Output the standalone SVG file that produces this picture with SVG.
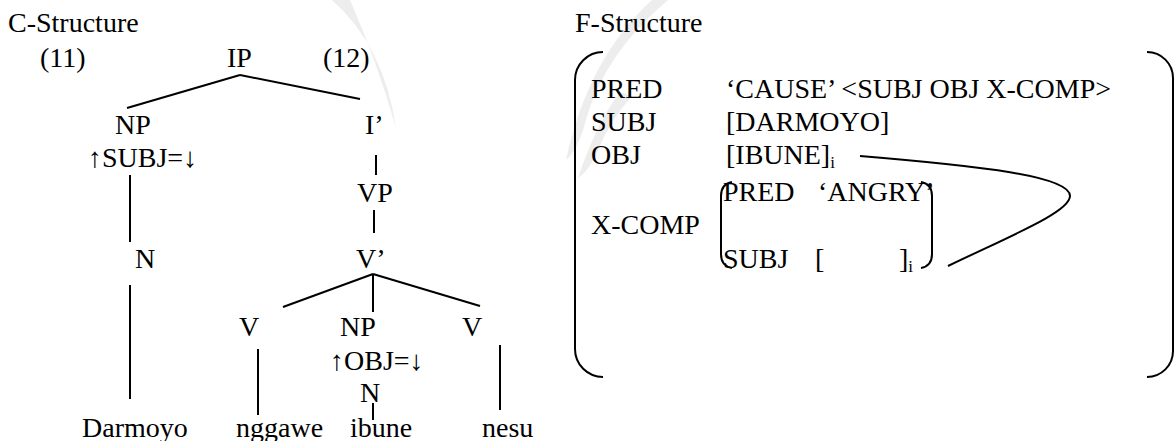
<svg xmlns="http://www.w3.org/2000/svg" width="1176" height="441" viewBox="0 0 1176 441">
<style>
text{font-family:"Liberation Serif","DejaVu Serif","Times New Roman",serif;font-size:28px;fill:#000}
.sub{font-size:17px}
.c line,.c path{stroke:#000;stroke-width:2;fill:none}
.wm{fill:#ededed;stroke:none}
</style>
<rect width="1176" height="441" fill="#fff"/>
<g id="watermark">
<path class="wm" d="M332 0 Q384 46 396 128 Q378 64 350 0 Z"/>
<path class="wm" d="M652 0 Q588 58 566 160 Q578 150 586 120 Q604 54 668 0 Z"/>
<path class="wm" d="M620 92 Q596 124 578 178 Q590 170 598 150 Q610 120 632 96 Z"/>
</g>
<g id="titles">
<text x="8" y="32">C-Structure</text>
<text x="40" y="67">(11)</text>
<text x="575" y="32">F-Structure</text>
<text x="323" y="67">(12)</text>
</g>
<g id="c-structure">
<g id="IP"><text x="227" y="67">IP</text></g>
<g id="NP-subj"><text x="115" y="134">NP</text><text x="88" y="167">↑SUBJ=↓</text></g>
<g id="Ibar"><text x="365" y="134">I’</text></g>
<g id="VP"><text x="357" y="202">VP</text></g>
<g id="N-subj"><text x="135" y="268">N</text></g>
<g id="Vbar"><text x="356" y="268">V’</text></g>
<g id="V1"><text x="239" y="336">V</text></g>
<g id="NP-obj"><text x="340" y="336">NP</text><text x="330" y="370">↑OBJ=↓</text></g>
<g id="N-obj"><text x="360" y="402">N</text></g>
<g id="V2"><text x="462" y="336">V</text></g>
<g id="w-darmoyo"><text x="82" y="437">Darmoyo</text></g>
<g id="w-nggawe"><text x="236" y="437">nggawe</text></g>
<g id="w-ibune"><text x="350" y="437">ibune</text></g>
<g id="w-nesu"><text x="482" y="437">nesu</text></g>
</g>
<g id="connectors" class="c">
<line x1="240" y1="75" x2="127" y2="108"/>
<line x1="240" y1="75" x2="360" y2="99"/>
<line x1="376" y1="155" x2="376" y2="175"/>
<line x1="374" y1="210" x2="374" y2="233"/>
<line x1="130" y1="175" x2="130" y2="242"/>
<line x1="130" y1="285" x2="130" y2="399"/>
<line x1="373" y1="274" x2="283" y2="307"/>
<line x1="373" y1="274" x2="373" y2="312"/>
<line x1="373" y1="274" x2="480" y2="306"/>
<line x1="258" y1="349" x2="258" y2="415"/>
<line x1="373" y1="403" x2="373" y2="420"/>
<line x1="500" y1="345" x2="500" y2="410"/>
<path d="M860 156 C980 166 1070 176 1070 196 C1070 212 1010 236 948 266"/>
</g>
<g id="f-structure" class="c">
<path d="M603 52 A28 28 0 0 0 575 80 V349 A28 28 0 0 0 603 377"/>
<path d="M1147 52 A26 26 0 0 1 1173 78 V351 A26 26 0 0 1 1147 377"/>
<text x="591" y="98">PRED</text>
<text x="726" y="98">‘CAUSE’ &lt;SUBJ OBJ X-COMP&gt;</text>
<text x="591" y="131">SUBJ</text>
<text x="726" y="131">[DARMOYO]</text>
<text x="591" y="164">OBJ</text>
<text x="726" y="164">[IBUNE]<tspan class="sub" dy="4">i</tspan></text>
<g id="xcomp">
<text x="591" y="234">X-COMP</text>
<path d="M732 182 Q721 184 721 196 V254 Q721 266 732 268"/>
<path d="M921 182 Q932 184 932 196 V254 Q932 266 921 268"/>
<text x="723" y="201">PRED</text>
<text x="818" y="201">‘ANGRY’</text>
<text x="723" y="268">SUBJ</text>
<text x="815" y="268">[</text>
<text x="899" y="268">]<tspan class="sub" dy="4">i</tspan></text>
</g>
</g>
</svg>
